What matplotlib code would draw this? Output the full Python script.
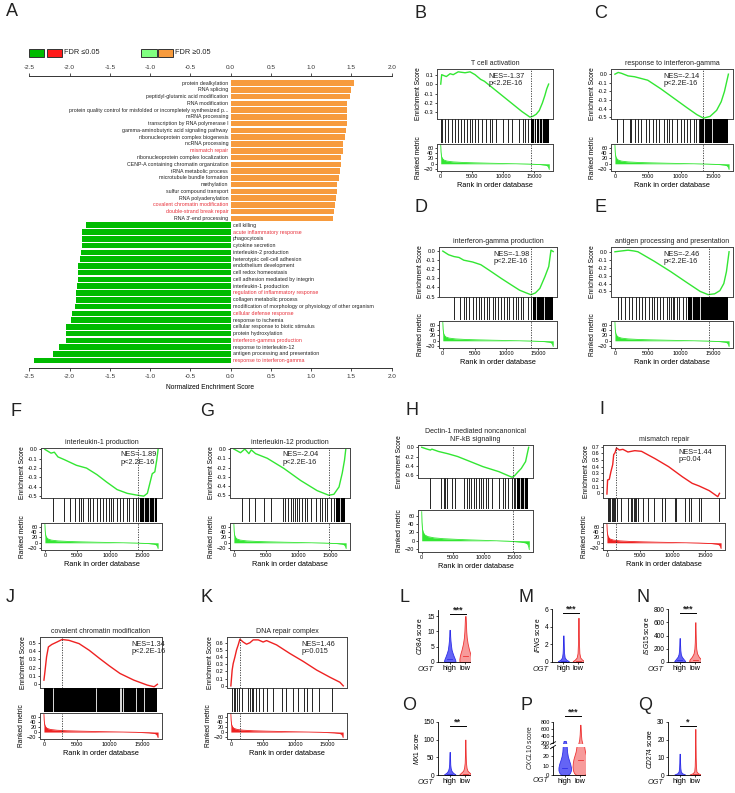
#! /bin/env python3

import matplotlib
matplotlib.use("Agg")
import matplotlib.pyplot as plt
from matplotlib.patches import Rectangle

W, H = 735, 793

# ---------------- panel A: GO terms and NES
up_terms = [
    "protein dealkylation", "RNA splicing", "peptidyl-glutamic acid modification",
    "RNA modification",
    "protein quality control for misfolded or incompletely synthesized p...",
    "mRNA processing", "transcription by RNA polymerase I",
    "gamma-aminobutyric acid signaling pathway",
    "ribonucleoprotein complex biogenesis", "ncRNA processing", "mismatch repair",
    "ribonucleoprotein complex localization",
    "CENP-A containing chromatin organization", "tRNA metabolic process",
    "microtubule bundle formation", "methylation", "sulfur compound transport",
    "RNA polyadenylation", "covalent chromatin modification",
    "double-strand break repair", "RNA 3'-end processing",
]
up_nes = [1.53, 1.50, 1.48, 1.45, 1.45, 1.45, 1.45, 1.43, 1.42, 1.40, 1.39,
          1.37, 1.37, 1.36, 1.35, 1.32, 1.32, 1.31, 1.30, 1.28, 1.27]
down_terms = [
    "cell killing", "acute inflammatory response", "phagocytosis",
    "cytokine secretion", "interleukin-2 production",
    "heterotypic cell-cell adhesion", "endothelium development",
    "cell redox homeostasis", "cell adhesion mediated by integrin",
    "interleukin-1 production", "regulation of inflammatory response",
    "collagen metabolic process",
    "modification of morphology or physiology of other organism",
    "cellular defense response", "response to ischemia",
    "cellular response to biotic stimulus", "protein hydroxylation",
    "interferon-gamma production", "response to interleukin-12",
    "antigen processing and presentation", "response to interferon-gamma",
]
down_nes = [-1.79, -1.84, -1.84, -1.85, -1.86, -1.87, -1.89, -1.90, -1.90,
            -1.91, -1.92, -1.92, -1.93, -1.97, -1.98, -2.04, -2.05, -2.05,
            -2.13, -2.21, -2.44]
red_terms = [
    "mismatch repair", "covalent chromatin modification",
    "double-strand break repair", "acute inflammatory response",
    "regulation of inflammatory response", "cellular defense response",
    "interferon-gamma production", "response to interferon-gamma",
]
nes_ticks = [-2.5, -2.0, -1.5, -1.0, -0.5, 0.0, 0.5, 1.0, 1.5, 2.0]

# ---------------- GSEA panels (rank, running ES, hit positions)
metric_rank = [0, 40, 120, 250, 500, 1000, 2000, 3500, 5500, 8000, 11000,
               14000, 16000, 16800, 17150, 17300, 17400]
metric_val = [70, 45, 28, 20, 14, 10, 7, 5, 3.5, 2, 0.5, -1, -3, -5, -8, -14, -21]

b_rank = [0, 150, 500, 900, 1500, 2000, 2800, 3900, 4700, 5500, 6400, 7000,
          8500, 10000, 11500, 13000, 14300, 14800, 15300, 15800, 16300, 16700,
          17000, 17300]
b_es = [0.0, 0.1, 0.09, 0.08, 0.11, 0.1, 0.13, 0.12, 0.13, 0.1, 0.05, 0.03,
        -0.05, -0.13, -0.21, -0.29, -0.35, -0.34, -0.32, -0.28, -0.2, -0.12,
        -0.05, 0.0]
b_hits = [0, 170, 620, 1190, 1760, 2330, 2730, 3180, 3750, 4200, 4710, 5050,
          5450, 5910, 6590, 7270, 7840, 8180, 8860, 9990, 10850, 11420, 12550,
          13120, 13520, 13970]
b_dense = [(14500, 15200), (15500, 17300)]
b_gaps = [14900, 15800, 16300]

c_rank = [0, 500, 1000, 2000, 3000, 4000, 5000, 7000, 9000, 11000, 12500,
          13500, 14500, 15500, 16200, 16700, 17000, 17300]
c_es = [0.0, 0.02, 0.01, -0.02, -0.03, -0.05, -0.07, -0.17, -0.28, -0.39,
        -0.47, -0.51, -0.49, -0.42, -0.32, -0.2, -0.1, 0.0]
c_hits = [250, 1250, 2250, 2500, 3000, 3500, 4000, 4750, 5250, 5750, 6250,
          6750, 7500, 8000, 8250, 8750, 9500, 10000, 10500, 11000, 11500,
          12000, 12400, 12750]
c_dense = [(13000, 17300)]
c_gaps = [13600, 14800]

d_rank = [0, 900, 1750, 2550, 3300, 4700, 6000, 7300, 9200, 10750, 12100,
          13150, 13900, 14600, 15300, 16100, 16700, 17050, 17400]
d_es = [0.0, -0.04, -0.06, -0.07, -0.1, -0.12, -0.15, -0.21, -0.3, -0.37,
        -0.43, -0.46, -0.48, -0.46, -0.41, -0.28, -0.17, 0.01, -0.005]
d_hits = [1750, 2700, 3350, 3600, 4150, 4700, 5200, 5750, 6000, 6550, 6950,
          7300, 7850, 8200, 8650, 9200, 9700, 10100, 10500, 11000, 11550,
          11900, 12250, 12600, 13400, 13950]
d_dense = [(14200, 17300)]
d_gaps = [14700, 15900]

e_rank = [0, 1000, 2000, 2900, 3500, 6000, 8500, 11000, 13000, 14200, 15200,
          16000, 16600, 17000, 17400]
e_es = [0.0, 0.01, 0.02, 0.01, 0.0, -0.12, -0.25, -0.39, -0.5, -0.54, -0.53,
        -0.49, -0.4, -0.25, 0.0]
e_hits = [400, 950, 1500, 2100, 2650, 3200, 3700, 4150, 4650, 5200, 5600,
          5950, 6350, 6900, 7400, 7950, 8300, 8500, 8800, 9000, 9450, 9800,
          10350, 10900]
e_dense = [(11100, 17300)]
e_gaps = [11800, 12900]

f_rank = [0, 940, 1450, 2000, 3000, 4840, 6400, 8000, 9500, 11100, 12650,
          14200, 15200, 15750, 16500, 16900, 17200, 17400]
f_es = [0.0, -0.04, -0.03, -0.08, -0.11, -0.17, -0.2, -0.27, -0.35, -0.43,
        -0.47, -0.49, -0.5, -0.47, -0.26, -0.24, -0.11, 0.0]
f_hits = [1200, 3000, 3900, 4700, 5250, 5600, 5900, 6550, 6900, 7450, 7950,
          8500, 9000, 9400, 9800, 10150, 10450, 11100, 11600, 12000, 12550,
          12900, 13600, 13950, 14300]
f_dense = [(14600, 17300)]
f_gaps = [15200, 16000, 16700]

g_rank = [0, 1030, 1700, 2330, 2700, 3360, 5170, 7750, 10340, 12900, 14700,
          15500, 16300, 16800, 17150, 17350]
g_es = [0.0, -0.04, 0.0, -0.05, -0.01, -0.05, -0.1, -0.21, -0.34, -0.45,
        -0.5, -0.49, -0.41, -0.26, -0.12, 0.0]
g_hits = [1300, 2300, 3350, 4650, 5700, 7650, 8000, 8400, 8800, 9200, 9550,
          9800, 10100, 10600, 11000, 11400, 11900, 12700, 13400, 13700,
          14100, 14500, 15000, 15500]
g_dense = [(15800, 17200)]
g_gaps = [16400]

h_rank = [0, 880, 1400, 1650, 2700, 4240, 5800, 7860, 9900, 12500, 14060,
          14600, 15000, 15600, 16100, 16800, 17300]
h_es = [0.0, -0.04, -0.06, -0.04, -0.09, -0.14, -0.2, -0.31, -0.42, -0.53,
        -0.62, -0.65, -0.62, -0.53, -0.46, -0.31, 0.0]
h_hits = [1300, 3100, 3600, 3800, 4150, 4850, 5350, 6800, 7250, 7600, 8000,
          8500, 8800, 9300, 9600, 9950, 10350, 10700, 11400, 12500, 13150,
          13550, 13950, 14600, 14900, 15150]
h_dense = [(15400, 17200)]
h_gaps = [15900, 16500]

i_rank = [0, 100, 360, 620, 880, 1030, 1240, 1450, 1900, 2430, 3200, 4240,
          5270, 7340, 9400, 11480, 13000, 14060, 15600, 16900, 17160]
i_es = [-0.01, 0.2, 0.21, 0.33, 0.43, 0.58, 0.61, 0.68, 0.65, 0.66, 0.62,
        0.64, 0.63, 0.52, 0.4, 0.25, 0.15, 0.11, 0.04, -0.05, 0.0]
i_hits = [200, 350, 500, 700, 900, 1050, 1250, 1550, 2150, 3200, 3600, 3850,
          4050, 4250, 4450, 4750, 5550, 6300, 7250, 8400, 8900, 10350, 10550,
          11900, 12550, 12800, 14100, 14350, 17150]

j_rank = [0, 150, 400, 680, 1200, 2000, 2760, 3800, 5360, 6900, 8500, 10000,
          11600, 13700, 15750, 16800, 17300]
j_es = [0.05, 0.15, 0.33, 0.45, 0.48, 0.51, 0.54, 0.53, 0.49, 0.41, 0.31,
        0.22, 0.13, 0.05, -0.01, -0.03, 0.0]
j_dense = [(0, 17300)]
j_gaps = [1450, 7950, 11550, 11700, 12000, 14100, 15200]

k_rank = [0, 200, 360, 620, 880, 1140, 1400, 1900, 2430, 2950, 3460, 4240,
          5000, 5530, 7080, 9150, 11220, 13290, 15350, 16900, 17420]
k_es = [0.0, 0.22, 0.31, 0.4, 0.5, 0.57, 0.65, 0.61, 0.58, 0.6, 0.64, 0.64,
        0.61, 0.63, 0.57, 0.45, 0.34, 0.22, 0.12, 0.05, 0.0]
k_hits = [250, 500, 700, 1000, 1300, 1650, 2700, 2950, 3200, 3450, 3950,
          4400, 5000, 5550, 6550, 7850, 8600, 9650, 10450, 11300, 11750,
          12650, 13700, 15600]

# ---------------- violin panels (profile: score level, half width)
l_high_y = [0, 0.3, 1, 2, 3, 4, 5.5, 7, 8.5, 10.5]
l_high_w = [0.3, 0.37, 0.33, 0.25, 0.18, 0.12, 0.08, 0.05, 0.03, 0.02]
l_low_y = [0, 0.3, 1, 2, 3, 4, 6, 8, 10, 12.5, 15]
l_low_w = [0.32, 0.38, 0.38, 0.35, 0.3, 0.24, 0.15, 0.09, 0.06, 0.04, 0.02]
m_high_y = [0, 0.1, 0.25, 0.5, 1, 1.5, 2.2, 3.0]
m_high_w = [0.3, 0.36, 0.2, 0.09, 0.05, 0.035, 0.025, 0.015]
m_low_y = [0, 0.1, 0.25, 0.5, 1, 2, 3, 4, 5.0]
m_low_w = [0.3, 0.38, 0.25, 0.12, 0.06, 0.035, 0.025, 0.02, 0.01]
n_high_y = [0, 15, 40, 80, 120, 180, 260, 360]
n_high_w = [0.28, 0.35, 0.26, 0.13, 0.07, 0.04, 0.025, 0.015]
n_low_y = [0, 15, 40, 80, 130, 200, 300, 450, 600]
n_low_w = [0.3, 0.4, 0.36, 0.22, 0.11, 0.06, 0.035, 0.02, 0.01]
o_high_y = [0, 2, 6, 12, 20, 30, 45, 65]
o_high_w = [0.3, 0.36, 0.22, 0.11, 0.06, 0.035, 0.025, 0.015]
o_low_y = [0, 2, 6, 12, 20, 35, 55, 80, 100]
o_low_w = [0.3, 0.38, 0.28, 0.14, 0.08, 0.04, 0.025, 0.015, 0.01]
p_high_y = [0, 2, 5, 8, 12, 16, 20, 25, 30, 200, 230, 260]
p_high_w = [0.2, 0.33, 0.4, 0.4, 0.35, 0.27, 0.2, 0.15, 0.13, 0.1, 0.08, 0.07]
p_low_y = [0, 2, 5, 9, 13, 17, 21, 25, 30, 200, 300, 450, 600, 720]
p_low_w = [0.26, 0.4, 0.47, 0.5, 0.48, 0.44, 0.37, 0.3, 0.25, 0.12, 0.07,
           0.04, 0.025, 0.015]
q_high_y = [0, 0.3, 1, 2, 4, 7, 12]
q_high_w = [0.28, 0.34, 0.15, 0.07, 0.04, 0.025, 0.015]
q_low_y = [0, 0.3, 1, 2, 5, 10, 18, 26]
q_low_w = [0.28, 0.36, 0.17, 0.07, 0.04, 0.025, 0.015, 0.01]
medians = {"L": (1.0, 1.8), "M": (0.1, 0.15), "N": (25, 35), "O": (3, 4),
           "P": (8, 16), "Q": (0.2, 0.3)}

GREEN = "#00bb00"
ORANGE = "#f79b3e"
RED_TXT = "#e8303a"
LINE_G = "#33e633"
LINE_R = "#ee2222"
XMIN, XMAX = -600, 18000


def px_axes(fig, x0, y0, x1, y1):
    return fig.add_axes([x0 / W, 1 - y1 / H, (x1 - x0) / W, (y1 - y0) / H])


def frame(ax, lw=0.7, color="#444444"):
    for s in ax.spines.values():
        s.set_linewidth(lw)
        s.set_color(color)


def gsea_panel(fig, box, title, rank, es, hits, dense, gaps, peak, stats,
               color, ylim, yticks, ylabels, text_x):
    x0, x1, y0, y1, y2, y3 = box
    ax = px_axes(fig, x0, y0, x1, y1)
    ax.plot(rank, es, color=color, lw=1.0)
    ax.axvline(peak, color="#333333", ls=(0, (1.5, 1.5)), lw=0.6)
    ax.set_xlim(XMIN, XMAX)
    ax.set_ylim(*ylim)
    ax.set_xticks([])
    ax.set_yticks(yticks)
    ax.set_yticklabels(ylabels)
    ax.tick_params(axis="y", labelsize=4, length=1.5, width=0.5, pad=1)
    ax.set_ylabel("Enrichment Score", fontsize=4.8, labelpad=1.5)
    ax.set_title(title, fontsize=5, pad=3, linespacing=1.1)
    if stats:
        ax.text(text_x, 0.93, stats, transform=ax.transAxes, ha="left",
                va="top", fontsize=5.3, linespacing=1.1)
    frame(ax)

    hx = px_axes(fig, x0, y1, x1, y2)
    if hits:
        hx.vlines(hits, 0, 1, color="k", lw=0.6)
    for a, b in dense:
        hx.axvspan(a, b, color="k", lw=0)
    if gaps:
        hx.vlines(gaps, 0, 1, color="w", lw=0.6)
    hx.set_xlim(XMIN, XMAX)
    hx.set_ylim(0, 1)
    hx.axis("off")

    rx = px_axes(fig, x0, y2 + 1, x1, y3)
    rx.fill_between(metric_rank, 0, metric_val, color=color, lw=0)
    rx.plot(metric_rank, metric_val, color=color, lw=0.6)
    rx.axvline(peak, color="#333333", ls=(0, (1.5, 1.5)), lw=0.6)
    rx.set_xlim(XMIN, XMAX)
    rx.set_ylim(-27, 74)
    rx.set_yticks([-20, 0, 20, 40, 60])
    rx.set_xticks([0, 5000, 10000, 15000])
    rx.tick_params(labelsize=4, length=1.5, width=0.5, pad=1)
    rx.set_ylabel("Ranked metric", fontsize=4.8, labelpad=1.5)
    rx.set_xlabel("Rank in order database", fontsize=5.3, labelpad=2)
    frame(rx)
    return ax


def violin(ax, pos, ys, ws, med, face, edge):
    left = [pos - w for w in ws]
    right = [pos + w for w in ws]
    ax.fill_betweenx(ys, left, right, facecolor=face, edgecolor=edge, lw=0.6)
    ax.plot([pos - 0.15, pos + 0.15], [med, med], color=edge, lw=0.6)


def violin_axes(ax, gene, ylim, yticks, stars, bar_y=0.93, show_x=True,
                tick_size=4.8):
    ax.set_xlim(0.25, 2.3)
    ax.set_ylim(*ylim)
    ax.set_yticks(yticks)
    ax.tick_params(labelsize=tick_size, length=1.5, width=0.5, pad=1)
    for s in ["top", "right"]:
        ax.spines[s].set_visible(False)
    for s in ["left", "bottom"]:
        ax.spines[s].set_linewidth(0.6)
    if show_x:
        ax.set_xticks([1, 2])
        ax.set_xticklabels(["high", "low"], fontsize=5.3)
        ax.tick_params(axis="x", labelsize=5.3)
        ax.text(-0.38, -0.08, "OGT", transform=ax.transAxes, ha="center",
                va="top", fontsize=5.3, style="italic")
    if stars:
        ax.plot([0.37, 0.87], [bar_y, bar_y], transform=ax.transAxes,
                color="k", lw=0.7, clip_on=False)
        ax.text(0.62, bar_y - 0.02, stars, transform=ax.transAxes,
                ha="center", va="bottom", fontsize=6.5, fontweight="bold")
    if gene:
        ax.set_ylabel(r"$\it{" + gene + "}$ score", fontsize=4.8, labelpad=2)


def main():
    plt.rcParams["font.family"] = ["Liberation Sans", "DejaVu Sans"]
    plt.rcParams["mathtext.fontset"] = "custom"
    plt.rcParams["mathtext.it"] = "Liberation Sans:italic"
    plt.rcParams["mathtext.rm"] = "Liberation Sans"
    plt.rcParams["text.color"] = "#222222"

    fig = plt.figure(figsize=(W / 100, H / 100), dpi=100)

    # ---------------- panel A
    ax = px_axes(fig, 29.3, 75.7, 391.7, 368)
    n_up = len(up_terms)
    pos_up = list(range(n_up))
    pos_dn = [n_up + i for i in range(len(down_terms))]
    ax.barh(pos_up, up_nes, height=0.82, color=ORANGE, lw=0)
    ax.barh(pos_dn, down_nes, height=0.82, color=GREEN, lw=0)
    for p, t in zip(pos_up, up_terms):
        ax.text(-0.03, p, t, ha="right", va="center", fontsize=3.8,
                color=RED_TXT if t in red_terms else "#222222")
    for p, t in zip(pos_dn, down_terms):
        ax.text(0.03, p, t, ha="left", va="center", fontsize=3.8,
                color=RED_TXT if t in red_terms else "#222222")
    ax.set_xlim(-2.5, 2.0)
    ax.set_ylim(pos_dn[-1] + 1.08, -1.08)
    ax.set_yticks([])
    ax.set_xticks(nes_ticks)
    ax.set_xticklabels([f"{v:.1f}" for v in nes_ticks])
    ax.tick_params(axis="x", top=True, labeltop=True, labelsize=4.6,
                   length=2, width=0.6, pad=2, colors="#333333")
    for s in ["left", "right"]:
        ax.spines[s].set_visible(False)
    for s in ["top", "bottom"]:
        ax.spines[s].set_linewidth(0.7)
        ax.spines[s].set_color("#333333")
    ax.set_xlabel("Normalized Enchriment Score", fontsize=4.8, labelpad=4)

    # legend boxes
    for x, c in [(29, GREEN), (46.5, "#ff1a1a"), (141, "#80ff80"),
                 (157.5, ORANGE)]:
        fig.add_artist(Rectangle((x / W, 1 - 57 / H), 15.5 / W, 8 / H,
                                 transform=fig.transFigure, fc=c,
                                 ec="#333333", lw=0.7))
    fig.text(64 / W, 1 - 53 / H, "FDR \u22640.05", fontsize=5.3, va="center")
    fig.text(175 / W, 1 - 53 / H, "FDR \u22650.05", fontsize=5.3, va="center")

    # ---------------- GSEA panels
    neg3 = ([0.1, 0.0, -0.1, -0.2, -0.3], ["0.1", "0.0", "-0.1", "-0.2", "-0.3"])
    neg5 = ([0.0, -0.1, -0.2, -0.3, -0.4, -0.5],
            ["0.0", "-0.1", "-0.2", "-0.3", "-0.4", "-0.5"])
    neg6 = ([0.0, -0.2, -0.4, -0.6], ["0.0", "-0.2", "-0.4", "-0.6"])
    pos7 = ([0.7, 0.6, 0.5, 0.4, 0.3, 0.2, 0.1, 0.0],
            ["0.7", "0.6", "0.5", "0.4", "0.3", "0.2", "0.1", "0"])
    pos5 = ([0.5, 0.4, 0.3, 0.2, 0.1, 0.0],
            ["0.5", "0.4", "0.3", "0.2", "0.1", "0"])
    pos6 = ([0.6, 0.5, 0.4, 0.3, 0.2, 0.1, 0.0],
            ["0.6", "0.5", "0.4", "0.3", "0.2", "0.1", "0"])

    panels = [
        ((437, 553, 69, 119, 143, 171), "T cell activation", b_rank, b_es,
         b_hits, b_dense, b_gaps, 14500, "NES=-1.37\np<2.2E-16", LINE_G,
         (-0.37, 0.16), neg3, 0.44),
        ((611, 733, 69, 119, 143, 171), "response to interferon-gamma",
         c_rank, c_es, c_hits, c_dense, c_gaps, 13500,
         "NES=-2.14\np<2.2E-16", LINE_G, (-0.52, 0.06), neg5, 0.43),
        ((439, 557, 247, 297, 320, 348), "interferon-gamma production",
         d_rank, d_es, d_hits, d_dense, d_gaps, 13900,
         "NES=-1.98\np<2.2E-16", LINE_G, (-0.505, 0.045), neg5, 0.46),
        ((611, 733, 247, 297, 320, 348), "antigen processing and presentation",
         e_rank, e_es, e_hits, e_dense, e_gaps, 14300,
         "NES=-2.46\np<2.2E-16", LINE_G, (-0.57, 0.06), neg5, 0.43),
        ((41, 162, 448, 498, 522, 550), "interleukin-1 production", f_rank,
         f_es, f_hits, f_dense, f_gaps, 14300, "NES=-1.89\np<2.2E-16",
         LINE_G, (-0.52, 0.015), neg5, 0.66),
        ((230, 350, 448, 498, 522, 550), "interleukin-12 production", g_rank,
         g_es, g_hits, g_dense, g_gaps, 14800, "NES=-2.04\np<2.2E-16",
         LINE_G, (-0.53, 0.011), neg5, 0.44),
        ((418, 533, 445, 478, 509, 552),
         "Dectin-1 mediated noncanonical\nNF-kB signaling", h_rank, h_es,
         h_hits, h_dense, h_gaps, 14700, "", LINE_G, (-0.667, 0.05), neg6,
         0.5),
        ((603, 725, 445, 498, 522, 550), "mismatch repair", i_rank, i_es,
         i_hits, [], [], 1450, "NES=1.44\np=0.04", LINE_R, (-0.07, 0.725),
         pos7, 0.62),
        ((40, 162, 637, 688, 712, 739), "covalent chromatin modification",
         j_rank, j_es, [], j_dense, j_gaps, 2760, "NES=1.34\np<2.2E-16",
         LINE_R, (-0.045, 0.57), pos5, 0.75),
        ((227, 347, 637, 688, 712, 739), "DNA repair complex", k_rank, k_es,
         k_hits, [], [], 1400, "NES=1.46\np=0.015", LINE_R, (-0.03, 0.68),
         pos6, 0.62),
    ]
    for (box, title, rank, es, hits, dense, gaps, peak, stats, color, ylim,
         ticks, tx) in panels:
        gsea_panel(fig, box, title, rank, es, hits, dense, gaps, peak, stats,
                   color, ylim, ticks[0], ticks[1], tx)

    # ---------------- violin panels
    BF, BE = "#6464f5", "#2f2fe8"
    RF, RE = "#f79a9a", "#ee3333"
    vio = [
        ("L", (438, 470, 610, 662), "CD8A", (0, 17), [0, 5, 10, 15], "***",
         l_high_y, l_high_w, l_low_y, l_low_w),
        ("M", (552, 583, 609, 662), "IFNG", (0, 6), [0, 2, 4, 6], "***",
         m_high_y, m_high_w, m_low_y, m_low_w),
        ("N", (668, 700, 609, 662), "ISG15", (0, 800),
         [0, 200, 400, 600, 800], "***", n_high_y, n_high_w, n_low_y,
         n_low_w),
        ("O", (438, 470, 722, 775), "MX1", (0, 150), [0, 50, 100, 150], "**",
         o_high_y, o_high_w, o_low_y, o_low_w),
        ("Q", (668, 700, 722, 775), "CD274", (0, 30), [0, 10, 20, 30], "*",
         q_high_y, q_high_w, q_low_y, q_low_w),
    ]
    for key, (x0, x1, y0, y1), gene, ylim, yt, st, hy, hw, ly, lw_ in vio:
        vx = px_axes(fig, x0, y0, x1, y1)
        violin(vx, 1, hy, hw, medians[key][0], BF, BE)
        violin(vx, 2, ly, lw_, medians[key][1], RF, RE)
        violin_axes(vx, gene, ylim, yt, st)

    # P: broken y axis
    lo = px_axes(fig, 553, 747, 585, 775)
    hi = px_axes(fig, 553, 722, 585, 743)
    for a in (lo, hi):
        violin(a, 1, p_high_y, p_high_w, medians["P"][0], BF, BE)
        violin(a, 2, p_low_y, p_low_w, medians["P"][1], RF, RE)
    violin_axes(lo, "", (0, 30), [0, 10, 20, 30], "", tick_size=4.3)
    violin_axes(hi, "", (200, 800), [200, 400, 600, 800], "***", bar_y=1.29,
                show_x=False, tick_size=4.0)
    hi.tick_params(axis="y", pad=0.5)
    hi.set_xticks([])
    hi.spines["bottom"].set_visible(False)
    for a, yy in [(hi, 0.0), (lo, 1.0)]:
        a.plot([-0.08, 0.08], [yy - 0.06, yy + 0.06], transform=a.transAxes,
               color="k", lw=0.6, clip_on=False)
    fig.text(530 / W, 1 - 748 / H, r"$\it{CXCL10}$ score", rotation=90,
             fontsize=4.8, ha="center", va="center")

    # ---------------- panel letters
    letters = [("A", 12, 12), ("B", 420, 13), ("C", 601, 13), ("D", 421, 207),
               ("E", 601, 207), ("F", 16, 412), ("G", 207, 412),
               ("H", 412, 411), ("I", 602, 409), ("J", 10, 597),
               ("K", 207, 597), ("L", 405, 597), ("M", 526, 597),
               ("N", 643, 597), ("O", 409, 705), ("P", 527, 705),
               ("Q", 645, 705)]
    for t, x, y in letters:
        fig.text(x / W, 1 - y / H, t, fontsize=13, ha="center", va="center")

    fig.savefig("out.png", dpi=100)


if __name__ == "__main__":
    main()
